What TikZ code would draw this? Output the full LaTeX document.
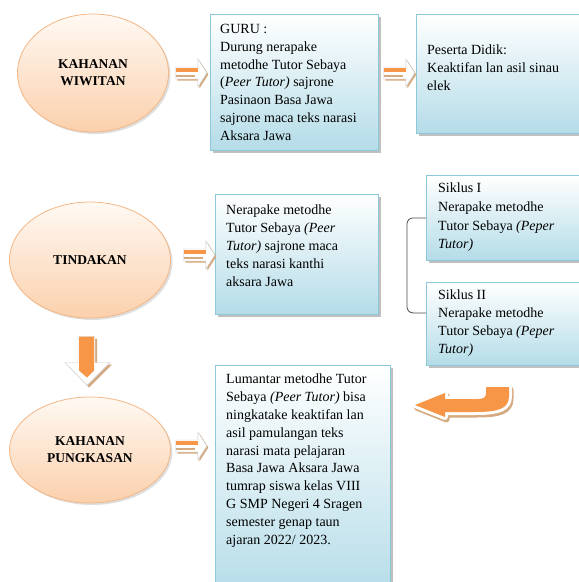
\documentclass[tikz,border=0pt]{standalone}
\usepackage{fontspec}
\setmainfont{Liberation Serif}
\usepackage{tikz}
\usetikzlibrary{calc,shapes.geometric,shadows}

\definecolor{boxblue}{RGB}{180,220,232}
\definecolor{boxline}{RGB}{140,200,216}
\definecolor{peach}{RGB}{251,208,172}
\definecolor{peachlight}{RGB}{255,249,243}
\definecolor{peachline}{RGB}{243,182,132}
\definecolor{arroworange}{RGB}{247,150,70}
\definecolor{arrowtan}{RGB}{214,170,128}

\newcommand{\stripearrow}[1]{%
  \begin{scope}[shift={#1}]
  \fill [arrowtan] (1.5,-4.5) -- (23.5,-4.5) -- (23.5,-12.5) -- (32.5,1.5) -- (23.5,15.5) -- (23.5,7.5) -- (1.5,7.5) -- cycle;
  \draw [black!22,fill=white,line width=0.4pt] (0,-6) -- (22,-6) -- (22,-14) -- (31,0) -- (22,14) -- (22,6) -- (0,6) -- cycle;
  \fill [arroworange] (0,-5) rectangle (22,-1.5);
  \fill [arrowtan] (0,1.5) rectangle (19,4);
  \end{scope}}

\begin{document}
\begin{tikzpicture}[x=1pt,y=-1pt,
  box/.style={draw=boxline,line width=0.8pt,top color=white,bottom color=boxblue,
    drop shadow={shadow xshift=2.5pt,shadow yshift=-2.5pt,fill=black!45,opacity=.55},
    anchor=north west,inner sep=0pt},
  stage/.style={ellipse,draw=peachline,line width=0.8pt,top color=peachlight,bottom color=peach,
    drop shadow={shadow xshift=2pt,shadow yshift=-2pt,fill=black!25,opacity=.5},
    font=\fontsize{13.5}{17}\selectfont\bfseries,align=center,inner sep=0pt},
  txt/.style={anchor=north west,align=left,inner sep=0pt,font=\fontsize{14}{17.8}\selectfont},
  bracket/.style={draw=black!70,line width=0.8pt,rounded corners=6pt}]

\useasboundingbox (0,0) rectangle (579,582);

\begin{scope}
\clip (0,0) rectangle (579,582);

\node [stage,minimum width=151pt,minimum height=118pt] (wiwitan) at (93,73) {KAHANAN\\WIWITAN};
\node [stage,minimum width=161pt,minimum height=116pt] (tindakan) at (90,260) {TINDAKAN};
\node [stage,minimum width=161pt,minimum height=106pt] (pungkasan) at (90,450) {KAHANAN\\PUNGKASAN};

\node [box,minimum width=168pt,minimum height=136pt] (guru) at (210,14) {};
\node [box,minimum width=184pt,minimum height=119pt] (peserta) at (416,14) {};
\node [box,minimum width=163pt,minimum height=120pt] (nerapake) at (215,194) {};
\node [box,minimum width=174pt,minimum height=85pt] (siklusi) at (426,175) {};
\node [box,minimum width=174pt,minimum height=83pt] (siklusii) at (426,282) {};
\node [box,minimum width=175pt,minimum height=235pt] (lumantar) at (215,365) {};

\node [txt] (gurutext) at ([shift={(10,10)}]guru.north west)
  {GURU :\\Durung nerapake\\metodhe Tutor Sebaya\\(\textit{Peer Tutor)} sajrone\\Pasinaon Basa Jawa\\sajrone maca teks narasi\\Aksara Jawa};
\node [txt] (pesertatext) at ([shift={(11,31)}]peserta.north west)
  {Peserta Didik:\\Keaktifan lan asil sinau\\elek};
\node [txt] (nerapaketext) at ([shift={(11,11)}]nerapake.north west)
  {Nerapake metodhe\\Tutor Sebaya \textit{(Peer}\\\textit{Tutor)} sajrone maca\\teks narasi kanthi\\aksara Jawa};
\node [txt,font=\fontsize{14}{18.6}\selectfont] (siklusitext) at ([shift={(12,8)}]siklusi.north west)
  {Siklus I\\Nerapake metodhe\\Tutor Sebaya \textit{(Peper}\\\textit{Tutor)}};
\node [txt] (siklusiitext) at ([shift={(12,8)}]siklusii.north west)
  {Siklus II\\Nerapake metodhe\\Tutor Sebaya \textit{(Peper}\\\textit{Tutor)}};
\node [txt] (lumantartext) at ([shift={(11,9)}]lumantar.north west)
  {Lumantar metodhe Tutor\\Sebaya \textit{(Peer Tutor)} bisa\\ningkatake keaktifan lan\\asil pamulangan teks\\narasi mata pelajaran\\Basa Jawa Aksara Jawa\\tumrap siswa kelas VIII\\G SMP Negeri 4 Sragen\\semester genap taun\\ajaran 2022/ 2023.};

\draw [bracket] (siklusi.west) -- ++(-19,0) |- ([yshift=11pt]siklusii.west);

\stripearrow{([xshift=7pt]wiwitan.east)}
\stripearrow{([xshift=5pt]guru.east |- wiwitan.east)}
\stripearrow{([xshift=13pt,yshift=5pt]tindakan.east)}
\stripearrow{([xshift=5pt,yshift=4pt]pungkasan.east)}

\begin{scope}[shift={($(tindakan.south)!.5!(pungkasan.north)+(-3,0)$)}]
\fill [arrowtan] (-7,-19) -- (10,-19) -- (10,7) -- (25,7) -- (2,30) -- (-20,7) -- (-7,7) -- cycle;
\draw [black!22,fill=white,line width=0.4pt] (-9,-21) -- (8,-21) -- (8,5) -- (23,5) -- (0,28) -- (-22,5) -- (-9,5) -- cycle;
\fill [arroworange] (-8,-21) -- (7,-21) -- (7,13) -- (0,20) -- (-8,13) -- cycle;
\end{scope}

\draw [arrowtan,fill=arrowtan,line width=6pt,line join=round,shift={(1.5,2.5)}]
  (486,387) -- (509,387) -- (509,396) .. controls (509,409) and (498,412) .. (475,412) -- (445,412) -- (445,417) -- (415,405) -- (445,393) -- (445,399) -- (478,399) .. controls (484,399) and (486,397) .. (486,393) -- cycle;
\draw [white,fill=white,line width=6pt,line join=round]
  (486,387) -- (509,387) -- (509,396) .. controls (509,409) and (498,412) .. (475,412) -- (445,412) -- (445,417) -- (415,405) -- (445,393) -- (445,399) -- (478,399) .. controls (484,399) and (486,397) .. (486,393) -- cycle;
\fill [arroworange]
  (486,387) -- (509,387) -- (509,396) .. controls (509,409) and (498,412) .. (475,412) -- (445,412) -- (445,417) -- (415,405) -- (445,393) -- (445,399) -- (478,399) .. controls (484,399) and (486,397) .. (486,393) -- cycle;

\end{scope}

\end{tikzpicture}
\end{document}
